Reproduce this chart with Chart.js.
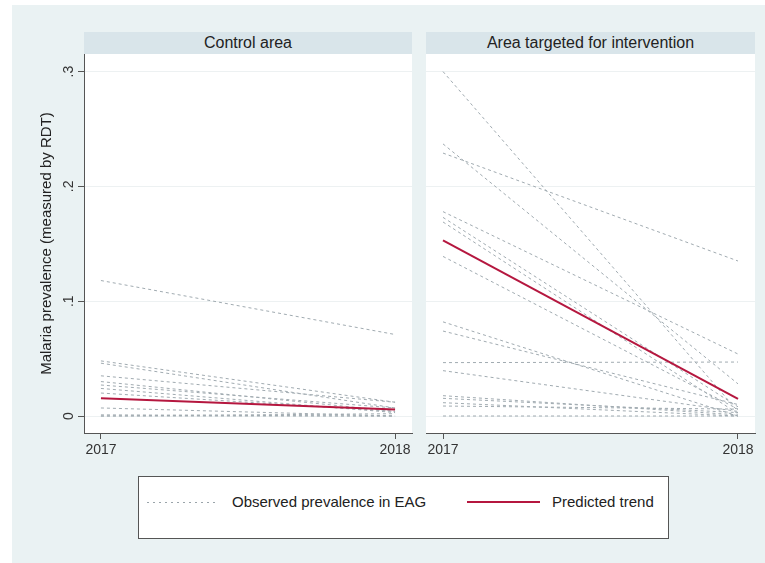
<!DOCTYPE html>
<html>
<head>
<meta charset="utf-8">
<script src="https://cdn.jsdelivr.net/npm/chart.js@4.4.0/dist/chart.umd.min.js"></script>
<style>
  body { margin: 0; background: #fff; font-family: "Liberation Sans", Arial, sans-serif; }
  #page { position: absolute; left: 12px; top: 5px; width: 753px; height: 558px; background: #eaf2f3; }
  .strip { position: absolute; top: 32px; height: 22px; background: #d9e5ea; color: #222;
           font-size: 16px; line-height: 22px; text-align: center; }
  .box { position: absolute; top: 0; }
  #legend { position: absolute; left: 138px; top: 476px; width: 531px; height: 63px;
            box-sizing: border-box; border: 1.5px solid #555; background: #fff; }
  .lab { position: absolute; font-size: 15px; line-height: 18px; color: #222; white-space: nowrap; }
</style>
</head>
<body>
<div id="page"></div>
<div class="strip" style="left:84px;width:328px">Control area</div>
<div class="strip" style="left:426px;width:329px">Area targeted for intervention</div>
<div class="box" style="left:0px"><canvas id="ctrl" width="420" height="463"></canvas></div>
<div class="box" style="left:420px"><canvas id="intv" width="345" height="463"></canvas></div>
<div id="legend"></div>
<div style="position:absolute;left:147px;top:502px;width:71px;height:1px;background:repeating-linear-gradient(to right,#9aa4aa 0 2px,transparent 2px 6px)"></div>
<div class="lab" style="left:232px;top:493px">Observed prevalence in EAG</div>
<div style="position:absolute;left:467px;top:501px;width:73px;height:2px;background:#b5173f"></div>
<div class="lab" style="left:552px;top:493px">Predicted trend</div>
<script>
// years on the x axis
var years = [2017, 2018];
var yTicks = [0, 0.1, 0.2, 0.3];

// control area, one value per EAG
var controlStart = [0.118, 0.048, 0.046, 0.035, 0.030, 0.027, 0.024, 0.020, 0.007, 0.000, 0.000, 0.001];
var controlEnd   = [0.071, 0.012, 0.007, 0.012, 0.004, 0.007, 0.003, 0.004, 0.000, 0.000, 0.002, 0.000];
var controlTrend = [0.0155, 0.0057];

// area targeted for intervention
var interventionStart = [0.300, 0.237, 0.229, 0.178, 0.173, 0.169, 0.139, 0.082, 0.074, 0.0465, 0.0395, 0.0177, 0.0154, 0.0116, 0.0087, 0.000];
var interventionEnd   = [0.004, 0.028, 0.135, 0.054, 0.008, 0.002, 0.006, 0.000, 0.010, 0.047, 0.004, 0.001, 0.003, 0.000, 0.006, 0.000];
var interventionTrend = [0.153, 0.015];

var gray = '#a1abb1';
var red = '#b5173f';
var axisCol = '#555';

function makeSets(start, end, trend) {
  var sets = [{
    data: [{x: years[0], y: trend[0]}, {x: years[1], y: trend[1]}],
    borderColor: red, borderWidth: 2
  }];
  start.forEach(function (s, i) {
    sets.push({
      data: [{x: years[0], y: s}, {x: years[1], y: end[i]}],
      borderColor: gray, borderWidth: 1, borderDash: [3, 3]
    });
  });
  return sets;
}

var plotBg = {
  id: 'plotBg',
  beforeDraw: function (chart) {
    var a = chart.chartArea, ctx = chart.ctx;
    ctx.save();
    ctx.fillStyle = '#fff';
    ctx.fillRect(a.left, a.top, a.right - a.left, a.bottom - a.top);
    ctx.restore();
  }
};

function xScale() {
  return {
    type: 'linear', min: 2017 - 17 / 295, max: 2018 + 17 / 295,
    afterBuildTicks: function (s) { s.ticks = years.map(function (v) { return {value: v}; }); },
    afterFit: function (s) { s.height = 30; },
    ticks: { color: '#333', font: {size: 14, family: '"Liberation Sans", Arial'}, padding: 3,
             maxRotation: 0, callback: function (v) { return String(v); } },
    grid: { drawOnChartArea: false, tickColor: axisCol, tickLength: 6 },
    border: { color: axisCol, width: 1 }
  };
}

function yBase() {
  return {
    type: 'linear', min: -0.0148, max: 0.3153,
    afterBuildTicks: function (s) { s.ticks = yTicks.map(function (v) { return {value: v}; }); },
    grid: { color: '#edf1f2', lineWidth: 1 }
  };
}

var yLeft = yBase();
yLeft.afterFit = function (s) { s.width = 54; };
yLeft.grid.tickColor = axisCol;
yLeft.grid.tickLength = 6;
yLeft.border = { color: axisCol, width: 1 };
yLeft.ticks = { color: '#333', font: {size: 14, family: '"Liberation Sans", Arial'}, padding: 3,
  minRotation: 90, maxRotation: 90, crossAlign: 'center',
  callback: function (v) { return v === 0 ? '0' : String(v).replace('0.', '.'); } };
yLeft.title = { display: true, text: 'Malaria prevalence (measured by RDT)', color: '#222',
  font: {size: 15, family: '"Liberation Sans", Arial'}, padding: {top: 8, bottom: 0} };

var yRight = yBase();
yRight.afterFit = function (s) { s.width = 0; };
yRight.grid.drawTicks = false;
yRight.border = { display: false };
yRight.ticks = { display: false };

var common = {
  responsive: false, animation: false,
  elements: { point: { radius: 0 }, line: { tension: 0 } },
  plugins: { legend: { display: false }, tooltip: { enabled: false } }
};

new Chart('ctrl', {
  type: 'line',
  data: { datasets: makeSets(controlStart, controlEnd, controlTrend) },
  options: Object.assign({}, common, {
    layout: { padding: {left: 30, top: 54, right: 8, bottom: 0} },
    scales: { x: xScale(), y: yLeft }
  }),
  plugins: [plotBg]
});

new Chart('intv', {
  type: 'line',
  data: { datasets: makeSets(interventionStart, interventionEnd, interventionTrend) },
  options: Object.assign({}, common, {
    layout: { padding: {left: 6, top: 54, right: 10, bottom: 0} },
    scales: { x: xScale(), y: yRight }
  }),
  plugins: [plotBg]
});
</script>
</body>
</html>
